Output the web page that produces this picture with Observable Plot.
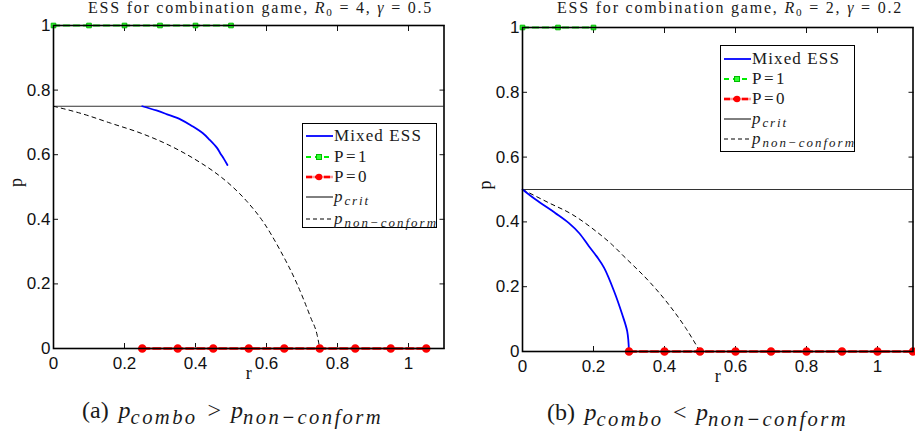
<!DOCTYPE html>
<html><head><meta charset="utf-8">
<script src="https://cdn.jsdelivr.net/npm/d3@7"></script>
<script src="https://cdn.jsdelivr.net/npm/@observablehq/plot@0.6"></script>
<style>
body{margin:0;background:#fff;width:915px;height:436px;position:relative;overflow:hidden;color:#1a1a1a;font-family:"Liberation Serif","Times New Roman",serif;}
.abs{position:absolute;white-space:nowrap;}
.title{font-size:16px;line-height:15px;}
.cap{font-size:24px;line-height:22px;}
.cap sub{font-size:86%;letter-spacing:2.4px;vertical-align:-0.28em;}
.legend{position:absolute;background:#fff;border:1.5px solid #000;box-sizing:border-box;font-size:17px;}
.row{position:absolute;left:2px;height:20px;display:flex;align-items:center;margin-top:-10px;}
.row svg{margin-right:1px;flex:none;}
sub{font-size:70%;vertical-align:-0.25em;line-height:0;}
.legend sub{font-size:76%;}
i{font-style:italic;}
</style></head><body>
<div id="chartA" class="abs" style="left:0;top:0"></div>
<div id="chartB" class="abs" style="left:460px;top:0"></div>

<div id="titleA" class="abs title" style="left:88px;top:0px">ESS for combination game, <i>R</i><sub>0</sub> = 4, <i>γ</i> = 0.5</div>
<div id="titleB" class="abs title" style="left:557px;top:0px">ESS for combination game, <i>R</i><sub>0</sub> = 2, <i>γ</i> = 0.2</div>

<div id="capA" class="abs cap" style="left:82px;top:399px">(a) <i>p</i><sub><i>combo</i></sub> &gt; <i>p</i><sub><i>non−conform</i></sub></div>
<div id="capB" class="abs cap" style="left:547px;top:401px">(b) <i>p</i><sub><i>combo</i></sub> &lt; <i>p</i><sub><i>non−conform</i></sub></div>

<div id="legA" class="legend" style="left:302px;top:123px;width:135px;height:105px"></div>
<div id="legB" class="legend" style="left:720px;top:45px;width:135px;height:107px"></div>

<script>
// ---------- Data: panel (a)  R0 = 4, gamma = 0.5 ----------
const aMixedR = [0.25, 0.29, 0.32, 0.36, 0.39, 0.42, 0.44, 0.46, 0.47, 0.48, 0.49];
const aMixedP = [0.75, 0.737, 0.725, 0.708, 0.689, 0.667, 0.646, 0.622, 0.604, 0.587, 0.568];
const aNonR = [0, 0.08, 0.16, 0.25, 0.33, 0.41, 0.45, 0.5, 0.546, 0.592, 0.639, 0.686, 0.724, 0.743, 0.75];
const aNonP = [0.75, 0.727, 0.698, 0.665, 0.627, 0.578, 0.549, 0.505, 0.454, 0.39, 0.303, 0.2, 0.097, 0.04, 0];
const aP1R = [0, 0.1, 0.2, 0.3, 0.4, 0.5];
const aP0R = [0.25, 0.35, 0.45, 0.55, 0.65, 0.75, 0.85, 0.95, 1.05];
const aCrit = 0.75;

// ---------- Data: panel (b)  R0 = 2, gamma = 0.2 ----------
const bMixedR = [0, 0.037, 0.093, 0.13, 0.16, 0.187, 0.21, 0.23, 0.258, 0.281, 0.295, 0.3];
const bMixedP = [0.5, 0.469, 0.427, 0.397, 0.365, 0.325, 0.292, 0.258, 0.186, 0.114, 0.062, 0];
const bNonR = [0, 0.074, 0.14, 0.206, 0.25, 0.29, 0.356, 0.412, 0.46, 0.5];
const bNonP = [0.5, 0.459, 0.423, 0.372, 0.332, 0.289, 0.217, 0.145, 0.072, 0];
const bP1R = [0, 0.1, 0.2];
const bP0R = [0.3, 0.4, 0.5, 0.6, 0.7, 0.8, 0.9, 1.0, 1.1];
const bCrit = 0.5;

// ---------- Axis ticks ----------
const xTicks = [0, 0.2, 0.4, 0.6, 0.8, 1];
const yTicks = [0, 0.2, 0.4, 0.6, 0.8, 1];
const tickLabels = ["0", "0.2", "0.4", "0.6", "0.8", "1"];
const xDomain = [0, 1.1];
const yDomain = [0, 1];

const tickFont = {fontFamily: "'Liberation Sans', Arial, sans-serif", fontSize: 17};
const serif = "'Liberation Serif', 'Times New Roman', serif";
const fmt = v => tickLabels[xTicks.indexOf(v)] ?? String(v);

function panel(d, m) {
  const pts = (xs, ys) => xs.map((x, i) => ({x, y: ys[i]}));
  return Plot.plot({
    width: m.width, height: 390,
    marginLeft: m.left, marginRight: m.right, marginTop: m.top, marginBottom: m.bottom,
    x: {domain: xDomain}, y: {domain: yDomain},
    style: {background: "transparent", overflow: "visible", color: "#111"},
    marks: [
      Plot.axisX({ticks: xTicks, tickSize: 0, tickPadding: 8, tickFormat: fmt, label: null, ...tickFont}),
      Plot.axisY({ticks: yTicks, tickSize: 0, tickPadding: 3, tickFormat: fmt, label: null, ...tickFont}),
      Plot.axisX({ticks: xTicks, anchor: "bottom", tickSize: 5, dy: -5, tickFormat: () => "", label: null}),
      Plot.axisX({ticks: xTicks, anchor: "top", tickSize: 5, dy: 5, tickFormat: () => "", label: null}),
      Plot.axisY({ticks: yTicks, anchor: "left", tickSize: 5, dx: 5, tickFormat: () => "", label: null}),
      Plot.axisY({ticks: yTicks, anchor: "right", tickSize: 5, dx: -5, tickFormat: () => "", label: null}),
      Plot.ruleY([d.crit], {stroke: "#333", strokeWidth: 1}),
      Plot.line(pts(d.nonR, d.nonP), {x: "x", y: "y", stroke: "#000", strokeWidth: 1, strokeDasharray: "4,4", curve: "monotone-x"}),
      Plot.line(pts(d.mixR, d.mixP), {x: "x", y: "y", stroke: "#0000ff", strokeWidth: 1.8, curve: "catmull-rom"}),
      Plot.line(d.p0R, {x: r => r, y: () => 0, stroke: "#ff9999", strokeWidth: 2.5}),
      Plot.line(d.p0R, {x: r => r, y: () => 0, stroke: "#ff0000", strokeWidth: 2.5, strokeDasharray: "7,4"}),
      Plot.dot(d.p0R, {x: r => r, y: () => 0, r: 3.5, fill: "#ff0000", stroke: "#ff0000"}),
      Plot.line(d.p1R, {x: r => r, y: () => 1, stroke: "#00ee00", strokeWidth: 1.8, strokeDasharray: "6,4"}),
      Plot.dot(d.p1R, {x: r => r, y: () => 1, symbol: "square", r: 2.6, fill: "#33ff33", stroke: "#00bb00", strokeWidth: 1}),
      Plot.frame({stroke: "#000", strokeWidth: 1.6}),
      Plot.text(["r"], {frameAnchor: "bottom", dy: 30, fontFamily: serif, fontSize: 18}),
      Plot.text(["p"], {frameAnchor: "left", dx: m.yLabelDx, rotate: -90, fontFamily: serif, fontSize: 18})
    ]
  });
}

document.getElementById("chartA").append(panel(
  {crit: aCrit, nonR: aNonR, nonP: aNonP, mixR: aMixedR, mixP: aMixedP, p1R: aP1R, p0R: aP0R},
  {width: 460, left: 53, right: 16.5, top: 25, bottom: 42, yLabelDx: -37}
));
document.getElementById("chartB").append(panel(
  {crit: bCrit, nonR: bNonR, nonP: bNonP, mixR: bMixedR, mixP: bMixedP, p1R: bP1R, p0R: bP0R},
  {width: 455, left: 62, right: 2.5, top: 27, bottom: 39, yLabelDx: -37}
));

// ---------- Legends ----------
const legendLabels = ["Mixed ESS", "P=1", "P=0", "<i>p</i><sub><i>crit</i></sub>", "<i>p</i><sub><i>non−conform</i></sub>"];
const legendKinds = ["mixed", "p1", "p0", "crit", "non"];
const legendWidths = [88, 35, 35, 36, 104];
function sample(kind) {
  const w = 28, h = 12, y = 6;
  let s = `<svg width="${w}" height="${h}" viewBox="0 0 ${w} ${h}">`;
  if (kind === "mixed") s += `<line x1="1" x2="${w}" y1="${y}" y2="${y}" stroke="#00f" stroke-width="1.8"/>`;
  if (kind === "p1") s += `<line x1="1" x2="${w}" y1="${y}" y2="${y}" stroke="#00ee00" stroke-width="1.8" stroke-dasharray="5,4"/><rect x="${w/2-2.5}" y="${y-2.5}" width="5" height="5" fill="#33ff33" stroke="#00bb00"/>`;
  if (kind === "p0") s += `<line x1="1" x2="${w}" y1="${y}" y2="${y}" stroke="#ff9999" stroke-width="2.5"/><line x1="1" x2="${w}" y1="${y}" y2="${y}" stroke="#f00" stroke-width="2.5" stroke-dasharray="6,3"/><circle cx="${w/2}" cy="${y}" r="3.3" fill="#f00"/>`;
  if (kind === "crit") s += `<line x1="1" x2="${w}" y1="${y}" y2="${y}" stroke="#000" stroke-width="1"/>`;
  if (kind === "non") s += `<line x1="1" x2="${w}" y1="${y}" y2="${y}" stroke="#000" stroke-width="1" stroke-dasharray="4,3"/>`;
  return s + "</svg>";
}
// stretch a text to the width it has in the reference (letter spacing)
function fit(el, target) {
  el.style.letterSpacing = "0px";
  const w = el.getBoundingClientRect().width;
  const n = el.textContent.length;
  el.style.letterSpacing = ((target - w) / n) + "px";
}
// stretch a caption through its spaces only
function fitWords(el, target) {
  el.style.wordSpacing = "0px";
  const w = el.getBoundingClientRect().width;
  const n = (el.textContent.match(/ /g) || []).length;
  el.style.wordSpacing = Math.max(0, (target - w) / n) + "px";
}
function legend(id, rows) {
  const el = document.getElementById(id);
  legendLabels.forEach((label, i) => {
    const r = document.createElement("div");
    r.className = "row";
    r.style.top = rows[i] + "px";
    r.innerHTML = sample(legendKinds[i]) + `<span>${label}</span>`;
    el.append(r);
    fit(r.querySelector("span"), legendWidths[i]);
  });
}
legend("legA", [12, 33, 53, 73, 95]);
legend("legB", [13, 33, 53, 73, 93]);

fit(document.getElementById("titleA"), 345);
fit(document.getElementById("titleB"), 346);
fitWords(document.getElementById("capA"), 301);
fitWords(document.getElementById("capB"), 301);
</script>
</body></html>
